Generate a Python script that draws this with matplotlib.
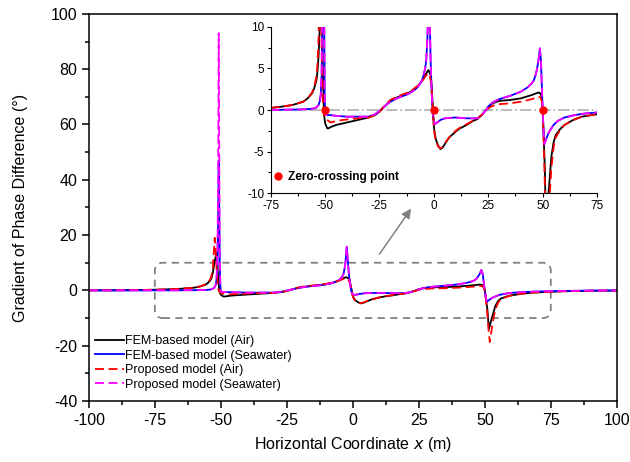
import matplotlib
matplotlib.use("Agg")
import matplotlib.pyplot as plt
from matplotlib.patches import FancyBboxPatch

plt.rcParams['font.family'] = ['Liberation Sans', 'DejaVu Sans']
plt.rcParams['axes.unicode_minus'] = False

# FEM-based model (Air)
x_fem_air = [-100, -90, -80, -75, -70, -65, -60, -58, -56, -55, -54, -53.5, -53, -52.5, -52,
             -51.7, -51.3, -51, -50.5, -50, -49, -48.5, -47, -45, -40, -35, -30, -27, -25,
             -22, -20, -17, -15, -12, -10, -8, -7, -6, -5, -4, -3, -2.5, -2, -1.5, -1, -0.5,
             0, 0.5, 1, 2, 3, 4, 5, 7, 10, 12, 15, 18, 20, 22, 24, 25, 27, 30, 35, 40, 45,
             47, 48, 49, 49.5, 50, 50.5, 51, 51.3, 51.6, 52, 52.5, 53, 54, 55, 56, 58, 60,
             64, 68, 75, 80, 90, 100]
y_fem_air = [0.02, 0.05, 0.15, 0.25, 0.4, 0.6, 1.0, 1.4, 2.0, 2.6, 3.6, 4.6, 6.5, 9.5, 12.0,
             13.4, 10, 4, -0.5, -1.6, -2.2, -2.2, -2.0, -1.8, -1.5, -1.2, -0.9, -0.6, -0.2,
             0.6, 1.1, 1.5, 1.7, 2.0, 2.3, 2.7, 3.0, 3.3, 3.7, 4.2, 4.6, 4.8, 4.5, 4.2, 2.8, 0.5,
             -2.0, -3.0, -3.6, -4.3, -4.7, -4.5, -4.1, -3.3, -2.6, -2.2, -1.8, -1.3, -1.1, -0.6, 0.0, 0.4, 0.8, 1.1, 1.2, 1.4, 1.8,
             2.0, 2.1, 2.0, 1.6, 0.0, -3.5, -7.0, -11, -13.8, -12.5, -10.5, -9, -5.6, -3.9, -3.0, -2.3, -1.8,
             -1.2, -0.8, -0.5, -0.3, -0.12, -0.05]

# FEM-based model (Seawater)
x_fem_sea = [-100, -80, -75, -70, -65, -60, -57, -55, -54, -53, -52.5, -52, -51.6, -51.3, -51,
             -50.8, -50.6, -50.4, -50.2, -50, -49.5, -48, -45, -40, -35, -30, -27, -25, -22,
             -20, -17, -15, -12, -10, -8, -7, -6, -5, -4, -3.5, -3, -2.7, -2.3, -1.9, -1.5, -1,
             -0.5, 0, 0.5, 1, 2, 3, 5, 10, 15, 20, 22, 24, 25, 27, 30, 35, 40, 43, 45, 46, 47,
             48, 48.7, 49.2, 49.6, 50, 50.5, 50.8, 51.2, 52, 53, 55, 57, 60, 65, 70, 75, 80, 90, 100]
y_fem_sea = [0.0, 0.0, 0.02, 0.03, 0.05, 0.08, 0.12, 0.2, 0.3, 0.6, 1.0, 1.8, 4, 10, 25,
             47, 30, 10, 2, -0.4, -0.6, -0.6, -0.7, -0.8, -0.8, -0.8, -0.5, -0.1, 0.6,
             1.0, 1.4, 1.6, 1.9, 2.2, 2.6, 2.9, 3.3, 3.9, 5.0, 6.0, 8.5, 11, 15.8, 11, 6, 2,
             -0.5, -1.4, -1.7, -1.6, -1.4, -1.2, -1.0, -0.9, -1.0, -1.0, -0.6, 0.0, 0.4, 0.9, 1.3, 1.7, 2.2, 2.7, 3.2, 3.6, 4.4,
             5.8, 7.4, 6, 3, 0.0, -3.0, -4.1, -3.8, -3.2, -2.6, -1.8, -1.3, -0.9, -0.6, -0.4, -0.3, -0.2, -0.08, -0.03]

# Proposed model (Air)
x_prop_air = [-100, -90, -80, -75, -70, -65, -60, -58, -56, -55, -54, -53.5, -53, -52.7, -52.3,
              -52, -51.5, -51, -50.5, -50, -49, -47.5, -46, -42, -35, -30, -27, -25, -22, -20,
              -17, -15, -12, -10, -8, -7, -6, -5, -4, -3, -2.5, -2, -1.5, -1, -0.5, 0, 0.5, 1,
              2, 3, 4, 5, 7, 10, 12, 15, 18, 20, 22, 24, 25, 27, 30, 35, 40, 45, 47, 48, 49,
              49.5, 50, 50.5, 51, 51.4, 51.9, 52.3, 52.8, 53.3, 54, 55, 56, 58, 60, 64, 68, 75,
              80, 90, 100]
y_prop_air = [0.02, 0.05, 0.15, 0.25, 0.4, 0.6, 1.0, 1.4, 2.1, 2.8, 4.0, 5.5, 8.5, 13, 19,
              15, 6, 0.5, -0.6, -0.9, -1.2, -1.5, -1.4, -1.2, -1.0, -0.9, -0.6, -0.2, 0.7, 1.2,
              1.6, 1.8, 2.1, 2.4, 2.8, 3.0, 3.3, 3.6, 4.0, 4.3, 4.4, 4.2, 3.6, 2.3, 0.2, -2.2, -3.2, -3.8,
              -4.4, -4.6, -4.4, -4.0, -3.3, -2.5, -2.1, -1.7, -1.3, -1.0, -0.6, -0.1, 0.2, 0.5, 0.7, 0.8, 1.0, 1.3, 1.5, 1.6, 1.5,
              1.2, 0.0, -4, -9, -14, -18.7, -16, -13, -10, -7, -4.5, -3.3, -2.4, -1.8, -1.2, -0.8, -0.5,
              -0.3, -0.12, -0.05]

# Proposed model (Seawater)
x_prop_sea = [-100, -80, -75, -70, -65, -60, -57, -55, -54, -53, -52.5, -52, -51.6, -51.3, -51,
              -50.8, -50.6, -50.4, -50.2, -50, -49.5, -48, -45, -40, -35, -30, -27, -25, -22,
              -20, -17, -15, -12, -10, -8, -7, -6, -5, -4, -3.5, -3, -2.7, -2.3, -1.9, -1.5, -1,
              -0.5, 0, 0.5, 1, 2, 3, 5, 10, 15, 20, 22, 24, 25, 27, 30, 35, 40, 43, 45, 46, 47,
              48, 48.7, 49.2, 49.6, 50, 50.5, 50.8, 51.2, 52, 53, 55, 57, 60, 65, 70, 75, 80, 90, 100]
y_prop_sea = [0.0, 0.0, 0.02, 0.03, 0.05, 0.08, 0.12, 0.2, 0.3, 0.6, 1.0, 1.8, 5, 14, 40,
              93, 50, 12, 2, -0.4, -0.6, -0.6, -0.7, -0.8, -0.8, -0.8, -0.5, -0.1, 0.6,
              1.0, 1.4, 1.6, 1.9, 2.2, 2.6, 2.9, 3.3, 3.9, 5.0, 6.0, 8.5, 11, 15.8, 11, 6, 2,
              -0.5, -1.4, -1.7, -1.6, -1.4, -1.2, -1.0, -0.9, -1.0, -1.0, -0.6, 0.0, 0.4, 0.9, 1.3, 1.7, 2.2, 2.7, 3.2, 3.6, 4.4,
              5.8, 7.4, 6, 3, 0.0, -3.0, -4.1, -3.8, -3.2, -2.6, -1.8, -1.3, -0.9, -0.6, -0.4, -0.3, -0.2, -0.08, -0.03]

zero_x = [-50, 0, 50]
zero_y = [0, 0, 0]

labels = ['FEM-based model (Air)', 'FEM-based model (Seawater)',
          'Proposed model (Air)', 'Proposed model (Seawater)']
dash = (0, (5, 2.5))


def draw_curves(ax, lw):
    ax.plot(x_fem_air, y_fem_air, color='black', lw=lw, label=labels[0])
    ax.plot(x_fem_sea, y_fem_sea, color='blue', lw=lw, label=labels[1])
    ax.plot(x_prop_air, y_prop_air, color='red', lw=lw, ls=dash, label=labels[2])
    ax.plot(x_prop_sea, y_prop_sea, color='magenta', lw=lw, ls=dash, label=labels[3])


fig = plt.figure(figsize=(6.3, 4.62), dpi=100)
ax = fig.add_axes([0.141, 0.132, 0.838, 0.838])
draw_curves(ax, 1.3)

ax.set_xlim(-100, 100)
ax.set_ylim(-40, 100)
ax.set_xticks(range(-100, 101, 25))
ax.set_xticks([v + 12.5 for v in range(-100, 100, 25)], minor=True)
ax.set_yticks(range(-40, 101, 20))
ax.set_yticks(range(-30, 100, 20), minor=True)
ax.tick_params(which='major', direction='out', length=5, width=1.1, labelsize=11.5, top=False, right=False)
ax.tick_params(which='minor', direction='out', length=3, width=1.1, top=False, right=False)
for s in ax.spines.values():
    s.set_linewidth(1.1)
ax.set_xlabel('Horizontal Coordinate $x$ (m)', fontsize=11.5, labelpad=5)
ax.set_ylabel('Gradient of Phase Difference (°)', fontsize=11.5, labelpad=16)

# dashed region box + arrow
box = FancyBboxPatch((-75, -10), 150, 20, boxstyle='round,pad=0,rounding_size=3',
                     fill=False, ec='gray', lw=1.3, ls=(0, (4, 3)))
ax.add_patch(box)
ax.annotate('', xy=(22.7, 30.4), xytext=(9.5, 12.3),
            arrowprops=dict(arrowstyle='-|>', color='gray', lw=1.1, mutation_scale=14))

ax.legend(loc='upper left', bbox_to_anchor=(0.012, 0.17), frameon=False, fontsize=9,
          handlelength=2.3, handletextpad=0.1, labelspacing=0.2, borderaxespad=0, borderpad=0)

# inset
ins = fig.add_axes([0.4297, 0.5816, 0.518, 0.3606])
ins.axhline(0, color='#b5b5b5', lw=1.3, ls='-.')
draw_curves(ins, 1.3)
ins.plot(zero_x, zero_y, 'o', color='red', ms=5, ls='none', label='Zero-crossing point')
ins.set_xlim(-75, 75)
ins.set_ylim(-10, 10)
ins.set_xticks(range(-75, 76, 25))
ins.set_xticks([v + 12.5 for v in range(-75, 75, 25)], minor=True)
ins.set_yticks([-10, -5, 0, 5, 10])
ins.set_yticks([-7.5, -2.5, 2.5, 7.5], minor=True)
ins.spines['top'].set_visible(False)
ins.spines['right'].set_visible(False)
ins.tick_params(which='major', direction='out', length=3, width=0.8, labelsize=8.5, pad=1.5)
ins.tick_params(which='minor', direction='out', length=2, width=0.8)
h = ins.get_legend_handles_labels()
ins.legend([h[0][-1]], [h[1][-1]], loc='center left', bbox_to_anchor=(0.005, 0.1), frameon=False,
           prop={'size': 8.5, 'weight': 'bold'}, handlelength=1, handletextpad=0.3,
           borderaxespad=0, borderpad=0)

fig.savefig('out.png', dpi=100)
